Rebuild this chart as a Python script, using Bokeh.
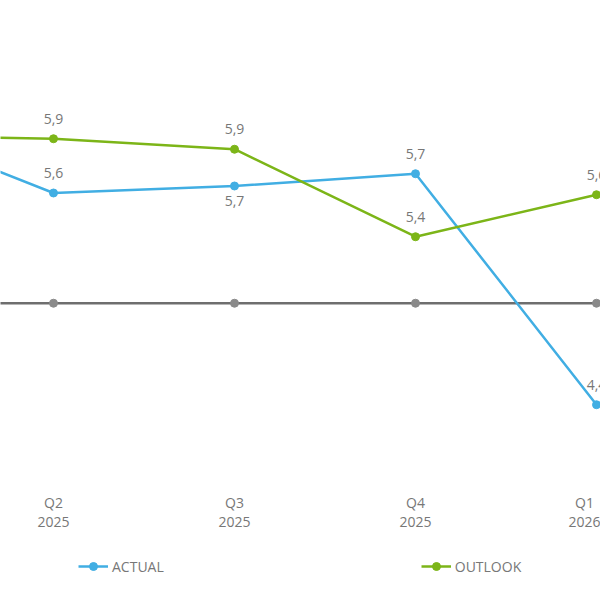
from bokeh.plotting import figure
from bokeh.layouts import column
from bokeh.models import ColumnDataSource, Range1d, FixedTicker, Legend, LegendItem
from bokeh.core.properties import value
from bokeh.embed import file_html
from bokeh.resources import INLINE

quarters = ["Q1\n2025", "Q2\n2025", "Q3\n2025", "Q4\n2025", "Q1\n2026"]
actual = [6.04, 5.63, 5.67, 5.74, 4.42]
outlook = [5.96, 5.94, 5.88, 5.38, 5.62]
baseline = [5.0, 5.0, 5.0, 5.0, 5.0]
series_names = ["ACTUAL", "OUTLOOK"]
actual_label_side = [1, 1, -1, 1, 1]   # 1 above, -1 below
outlook_label_side = [1, 1, 1, 1, 1]

BLUE = "#41aee3"
GREEN = "#7cb518"
GRAY_LINE = "#6e6e6e"
GRAY_PT = "#8a8a8a"
TXT = "#777777"
FONT = "Open Sans"

xs = list(range(len(quarters)))
fmt = lambda v: f"{v:.1f}".replace(".", ",")

p = figure(frame_width=600, frame_height=480, output_backend="svg", toolbar_location=None,
           x_range=Range1d(0.7072, 4.022), y_range=Range1d(3.987, 6.73),
           min_border_left=0, min_border_right=0, min_border_top=0, min_border_bottom=0)
p.outline_line_color = None
p.xgrid.visible = False
p.ygrid.visible = False
p.yaxis.visible = False
p.background_fill_color = "white"
p.border_fill_color = "white"

ax = p.xaxis[0]
ax.ticker = FixedTicker(ticks=xs)
ax.major_label_overrides = {i: q for i, q in enumerate(quarters)}
ax.axis_line_color = None
ax.major_tick_line_color = None
ax.minor_tick_line_color = None
ax.major_label_text_color = TXT
ax.major_label_text_font = FONT
ax.major_label_text_font_size = "14px"
ax.major_label_text_line_height = 1.04
ax.major_label_standoff = 6

src_b = ColumnDataSource(dict(x=xs, y=baseline))
p.line("x", "y", source=src_b, color=GRAY_LINE, line_width=2.5)
p.scatter("x", "y", source=src_b, size=8, color=GRAY_PT)

src_a = ColumnDataSource(dict(x=xs, y=actual, t=[fmt(v) for v in actual],
                              off=[-20 if s > 0 else 15 for s in actual_label_side]))
p.line("x", "y", source=src_a, color=BLUE, line_width=2.5)
p.scatter("x", "y", source=src_a, size=8, color=BLUE)
p.text("x", "y", text="t", y_offset="off", source=src_a, text_align="center",
       text_baseline="middle", text_color=TXT, text_font=value(FONT), text_font_size="14px")

src_o = ColumnDataSource(dict(x=xs, y=outlook, t=[fmt(v) for v in outlook],
                              off=[-20 if s > 0 else 15 for s in outlook_label_side]))
p.line("x", "y", source=src_o, color=GREEN, line_width=2.5)
p.scatter("x", "y", source=src_o, size=8, color=GREEN)
p.text("x", "y", text="t", y_offset="off", source=src_o, text_align="center",
       text_baseline="middle", text_color=TXT, text_font=value(FONT), text_font_size="14px")

# Legend strip below the chart (its own renderers reuse the series data, drawn off-range)
lg = figure(frame_width=600, frame_height=75, output_backend="svg", toolbar_location=None,
            x_range=Range1d(100, 101), y_range=Range1d(100, 101),
            min_border_left=0, min_border_right=0, min_border_top=0, min_border_bottom=0)
lg.axis.visible = False
lg.grid.visible = False
lg.outline_line_color = None
items = []
for name, col, src in zip(series_names, [BLUE, GREEN], [src_a, src_o]):
    r1 = lg.line("x", "y", source=src, color=col, line_width=2.5)
    r2 = lg.scatter("x", "y", source=src, size=8, color=col)
    items.append(LegendItem(label=name, renderers=[r1, r2]))
legend = Legend(items=items, orientation="horizontal", location=(78, 33), spacing=257,
                glyph_width=30, glyph_height=20, label_standoff=4, border_line_color=None,
                label_text_color=TXT, label_text_font=FONT, label_text_font_size="14px",
                padding=0, margin=0, background_fill_alpha=0)
lg.add_layout(legend, "center")

layout = column(p, lg, spacing=0)
open("out.html", "w").write(file_html(layout, INLINE))
